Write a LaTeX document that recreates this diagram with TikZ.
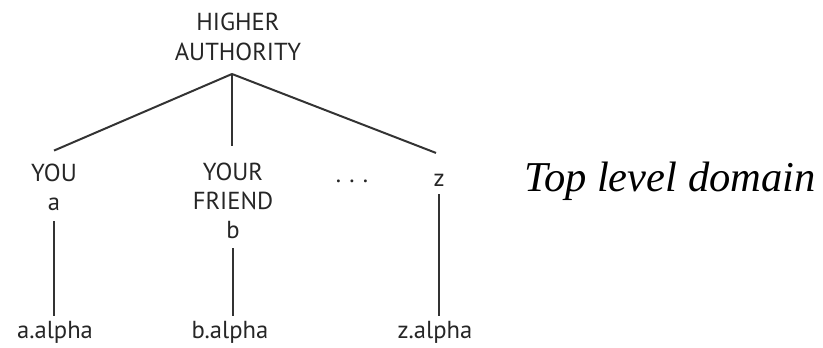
\documentclass[tikz,border=0pt]{standalone}
\usepackage{fontspec}
\setmainfont{Liberation Serif}
\newfontfamily\lblfont{PT Sans}
\usepackage{tikz}
\usetikzlibrary{calc}
\tikzset{
    lbl/.style={font=\lblfont\fontsize{21}{25}\selectfont, align=center, inner sep=4pt, text=black!85},
    dom/.style={font=\itshape\fontsize{36.3}{40}\selectfont, anchor=west, inner sep=0pt},
    ln/.style={draw=black!80, line width=1.7pt},
}

\begin{document}
\begin{tikzpicture}[x=0.03cm, y=-0.03cm]
    \useasboundingbox (0,0) rectangle (823,348);
    \node[lbl] (auth) at (238,37) {HIGHER\\AUTHORITY};
    \coordinate (top) at (232,74);
    \node[lbl] (you) at (54,187) {YOU\\a};
    \node[lbl] (friend) at (233,201) {YOUR\\FRIEND\\b};
    \node[lbl] (dots) at (352,181) {.\kern7pt.\kern7pt.};
    \node[lbl] (z) at (439,180) {z};
    \node[dom] (tld) at (524,181) {Top level domain};
    \node[lbl] (aalpha) at (55,332) {a.alpha};
    \node[lbl] (balpha) at (230,332) {b.alpha};
    \node[lbl] (zalpha) at (435,332) {z.alpha};
    \draw[ln] (top) -- ($(you.north)+(0,-8)$);
    \draw[ln] (top) -- ($(friend.north -| top)+(0,-12)$);
    \draw[ln] (top) -- ($(z.north)+(-3,-16)$);
    \draw[ln] ($(you.south)+(0,6)$) -- (aalpha.north -| you.south);
    \draw[ln] ($(friend.south)+(0,4)$) -- (balpha.north -| friend.south);
    \draw[ln] ($(z.south)+(0,3)$) -- (zalpha.north -| z.south);
\end{tikzpicture}
\end{document}
